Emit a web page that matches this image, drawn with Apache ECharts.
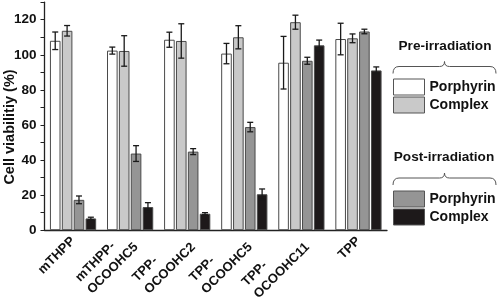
<!DOCTYPE html>
<html>
<head>
<meta charset="utf-8">
<script src="https://cdn.jsdelivr.net/npm/echarts@6/dist/echarts.min.js"></script>
<style>html,body{margin:0;padding:0;background:#fff;}#c{width:498px;height:303px;}</style>
</head>
<body>
<div id="c"></div>
<script>
const categories = ['mTHPP', 'mTHPP-\nOCOOHC5', 'TPP-\nOCOOHC2', 'TPP-\nOCOOHC5', 'TPP-\nOCOOHC11', 'TPP'];
const prePorphyrin = [108, 102.4, 108.6, 100.7, 95.5, 109];
const prePorphyrinErr = [5, 2, 4.3, 5.8, 15, 9];
const preComplex = [113.7, 102.2, 107.9, 110, 118.6, 109.4];
const preComplexErr = [3, 8.7, 9.8, 6.6, 4, 2.5];
const postPorphyrin = [17.3, 43.7, 44.8, 58.8, 96.6, 113.3];
const postPorphyrinErr = [2.2, 4.5, 1.7, 2.7, 2, 1.3];
const postComplex = [6.7, 13.2, 9.4, 20.5, 105.4, 91.1];
const postComplexErr = [0.7, 2.5, 0.6, 3, 3, 2];
const yTicks = [0, 20, 40, 60, 80, 100, 120];

const FONT = '"Liberation Sans", Arial, sans-serif';
const CAT_GAP = 0.19, BAR_GAP = 0.12, NBARS = 4;
const seriesDefs = [
  {name: 'Pre|Porphyrin', data: prePorphyrin, err: prePorphyrinErr, color: '#ffffff'},
  {name: 'Pre|Complex', data: preComplex, err: preComplexErr, color: '#c9c9c9'},
  {name: 'Post|Porphyrin', data: postPorphyrin, err: postPorphyrinErr, color: '#959595'},
  {name: 'Post|Complex', data: postComplex, err: postComplexErr, color: '#1d191a'}
];

const series = [];
seriesDefs.forEach((s, i) => {
  series.push({
    name: s.name, type: 'bar', data: s.data,
    barGap: (BAR_GAP * 100) + '%', barCategoryGap: (CAT_GAP * 100) + '%',
    itemStyle: {color: s.color, borderColor: '#4a4a4a', borderWidth: 1},
    emphasis: {disabled: true}
  });
});
seriesDefs.forEach((s, i) => {
  series.push({
    name: 'err' + i, type: 'custom', z: 5,
    data: categories.map((c, j) => [j, s.data[j], s.err[j]]),
    encode: {x: 0, y: 1},
    renderItem: function (params, api) {
      const idx = api.value(0), v = api.value(1), e = api.value(2);
      const c = api.coord([idx, v]);
      const band = api.size([1, 0])[0];
      const total = band * (1 - CAT_GAP);
      const w = total / (NBARS + (NBARS - 1) * BAR_GAP);
      const x = c[0] - total / 2 + i * (w * (1 + BAR_GAP)) + w / 2;
      const top = api.coord([idx, v + e])[1];
      const bot = api.coord([idx, v - e])[1];
      const hw = 3;
      const st = {stroke: '#1a1a1a', lineWidth: 1.3};
      return {type: 'group', children: [
        {type: 'line', shape: {x1: x, y1: top, x2: x, y2: bot}, style: st},
        {type: 'line', shape: {x1: x - hw, y1: top, x2: x + hw, y2: top}, style: st},
        {type: 'line', shape: {x1: x - hw, y1: bot, x2: x + hw, y2: bot}, style: st}
      ]};
    }
  });
});

function brace(x1, x2, y) {
  const m = (x1 + x2) / 2;
  const st = {fill: 'none', stroke: '#555', lineWidth: 1};
  return [
    {type: 'bezierCurve', shape: {x1: x1, y1: y + 7, cpx1: x1, cpy1: y, x2: x1 + 6, y2: y}, style: st},
    {type: 'line', shape: {x1: x1 + 6, y1: y, x2: m - 5, y2: y}, style: st},
    {type: 'bezierCurve', shape: {x1: m - 5, y1: y, cpx1: m, cpy1: y, x2: m, y2: y - 5}, style: st},
    {type: 'bezierCurve', shape: {x1: m, y1: y - 5, cpx1: m, cpy1: y, x2: m + 5, y2: y}, style: st},
    {type: 'line', shape: {x1: m + 5, y1: y, x2: x2 - 6, y2: y}, style: st},
    {type: 'bezierCurve', shape: {x1: x2 - 6, y1: y, cpx1: x2, cpy1: y, x2: x2, y2: y + 7}, style: st}
  ];
}

const legendCommon = {
  orient: 'vertical', left: 393, itemWidth: 31, itemHeight: 16, itemGap: 1, padding: 0,
  icon: 'rect', selectedMode: false,
  formatter: n => n.split('|')[1],
  textStyle: {fontFamily: FONT, fontWeight: 'bold', fontSize: 14, color: '#111', lineHeight: 16},
  itemStyle: {borderColor: '#555', borderWidth: 1}
};

const option = {
  animation: false,
  backgroundColor: '#ffffff',
  grid: {left: 44.5, right: 111, top: 2.2, bottom: 70.7, containLabel: false},
  legend: [
    Object.assign({}, legendCommon, {top: 78.5, data: ['Pre|Porphyrin', 'Pre|Complex']}),
    Object.assign({}, legendCommon, {top: 190.5, data: ['Post|Porphyrin', 'Post|Complex']})
  ],
  xAxis: {
    type: 'category', data: categories,
    axisLine: {lineStyle: {color: '#222', width: 1.3}},
    axisTick: {show: false},
    axisLabel: {
      rotate: 45, margin: 9, interval: 0,
      formatter: v => v.split('\n').map(s => '{a|' + s + '}').join('\n'),
      rich: {a: {align: 'left', fontFamily: FONT, fontWeight: 'bold', fontSize: 13, color: '#111', lineHeight: 17}}
    }
  },
  yAxis: {
    type: 'value', min: 0, max: 130, interval: 10,
    axisLine: {show: true, lineStyle: {color: '#222', width: 1.3}},
    axisTick: {show: true, inside: false, length: 4, lineStyle: {color: '#222', width: 1}},
    splitLine: {show: false},
    axisLabel: {
      margin: 8, fontFamily: FONT, fontWeight: 'bold', fontSize: 13.5, color: '#111',
      formatter: v => (yTicks.indexOf(v) >= 0 ? String(v) : '')
    }
  },
  graphic: [
    {type: 'text', x: 10, y: 127, rotation: Math.PI / 2,
      style: {text: 'Cell viabilitiy (%)', font: 'bold 14.5px ' + FONT, fill: '#111', align: 'center', verticalAlign: 'middle'}},
    {type: 'text', x: 445, y: 46,
      style: {text: 'Pre-irradiation', font: 'bold 13.6px ' + FONT, fill: '#111', align: 'center', verticalAlign: 'middle'}},
    {type: 'text', x: 444, y: 157,
      style: {text: 'Post-irradiation', font: 'bold 13.6px ' + FONT, fill: '#111', align: 'center', verticalAlign: 'middle'}}
  ].concat(brace(393, 496, 66.5), brace(393, 496, 178)),
  series: series
};

const chart = echarts.init(document.getElementById('c'), null, {renderer: 'canvas'});
chart.setOption(option);
</script>
</body>
</html>
